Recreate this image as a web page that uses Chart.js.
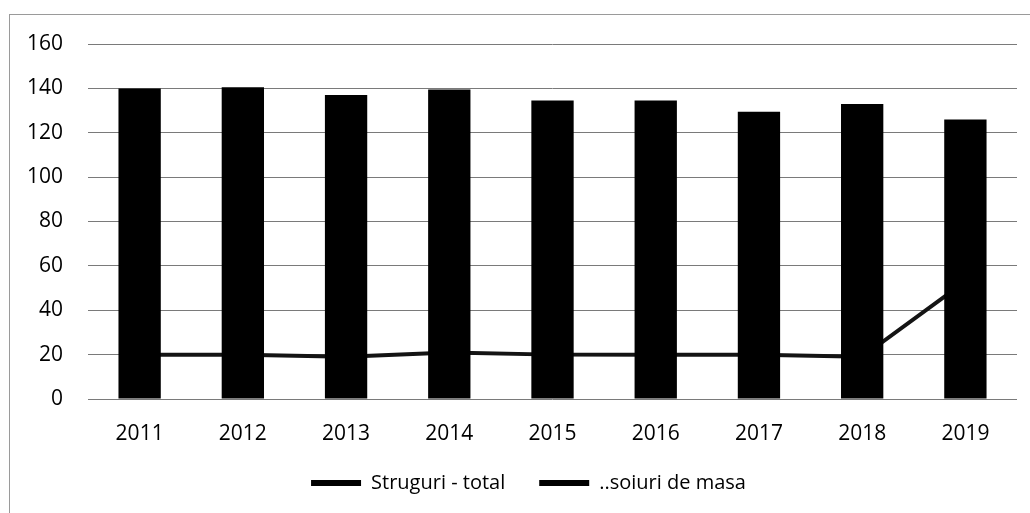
<!DOCTYPE html>
<html>
<head>
<meta charset="utf-8">
<script src="https://cdn.jsdelivr.net/npm/chart.js@4.4.1/dist/chart.umd.min.js"></script>
<style>
  html, body { margin: 0; padding: 0; background: #fff; }
  #wrap { position: relative; width: 1030px; height: 513px; overflow: hidden; }
  #frame { position: absolute; left: 9px; top: 14px; right: -2px; bottom: -2px;
           border-top: 1px solid #9a9a9a; border-left: 1px solid #9a9a9a; }
  canvas { position: absolute; left: 0; top: 0; }
</style>
</head>
<body>
<div id="wrap">
  <div id="frame"></div>
  <canvas id="chart" width="1030" height="513"></canvas>
</div>
<script>
// Data
const years = ['2011', '2012', '2013', '2014', '2015', '2016', '2017', '2018', '2019'];
const strugurTotal = [140, 140.5, 137, 139.5, 134.5, 134.5, 129.5, 133, 126];
const soiuriMasa = [20, 20, 19, 21, 20, 20, 20, 19, 53];
const yTicks = [0, 20, 40, 60, 80, 100, 120, 140, 160];

const FONT = "'Open Sans', 'Liberation Sans', sans-serif";

// nudge the legend: the original one sits a bit right and higher
const legendShift = {
    id: 'legendShift',
    afterLayout(chart) {
        const lg = chart.legend;
        lg.left += 19;
        lg.right += 19;
        lg.top -= 8;
        lg.bottom -= 8;
    }
};

const ctx = document.getElementById('chart').getContext('2d');

new Chart(ctx, {
    type: 'bar',
    data: {
        labels: years,
        datasets: [
            {
                type: 'line',
                label: '..soiuri de masa',
                data: soiuriMasa,
                borderColor: '#141414',
                backgroundColor: '#141414',
                borderWidth: 4,
                pointRadius: 0,
                tension: 0,
                order: 2
            },
            {
                type: 'bar',
                label: 'Struguri - total',
                data: strugurTotal,
                backgroundColor: '#000000',
                borderWidth: 0,
                barPercentage: 0.41,
                categoryPercentage: 1.0,
                order: 1
            }
        ]
    },
    plugins: [legendShift],
    options: {
        responsive: false,
        animation: false,
        layout: {
            padding: { left: 2, right: 13, top: 44, bottom: 2 }
        },
        plugins: {
            title: { display: false },
            tooltip: { enabled: false },
            legend: {
                position: 'bottom',
                labels: {
                    color: '#000',
                    font: { family: FONT, size: 20 },
                    boxWidth: 50,
                    boxHeight: 6,
                    padding: 34,
                    generateLabels: function(chart) {
                        // bar first, then line, like the original legend
                        return [1, 0].map(i => {
                            const ds = chart.data.datasets[i];
                            return {
                                text: ds.label,
                                fillStyle: '#000',
                                strokeStyle: '#000',
                                lineWidth: 0,
                                hidden: false,
                                datasetIndex: i,
                                fontColor: '#000'
                            };
                        });
                    }
                }
            }
        },
        scales: {
            x: {
                grid: { display: false, drawTicks: false },
                border: { display: false },
                ticks: {
                    color: '#000',
                    font: { family: FONT, size: 21 },
                    padding: 22
                },
                afterFit: function(axis) {
                    axis.height = 48;
                }
            },
            y: {
                min: 0,
                max: 160,
                afterBuildTicks: function(axis) {
                    axis.ticks = yTicks.map(v => ({ value: v }));
                },
                grid: { color: '#7a7a7a', lineWidth: 1, drawTicks: false },
                border: { display: false },
                ticks: {
                    color: '#000',
                    font: { family: FONT, size: 21 },
                    padding: 25
                }
            }
        }
    }
});
</script>
</body>
</html>
